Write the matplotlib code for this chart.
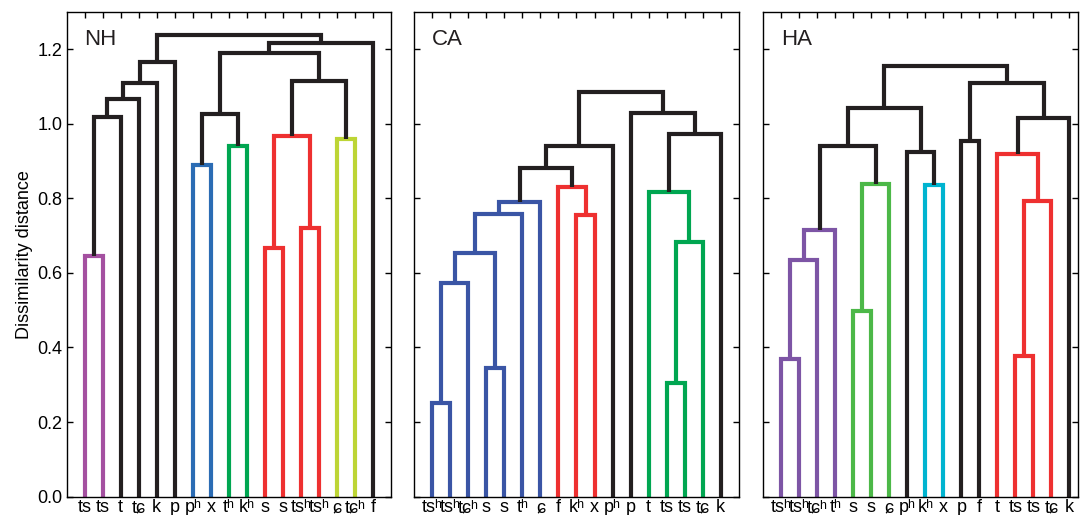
import matplotlib
matplotlib.use("Agg")
import matplotlib.pyplot as plt

plt.rcParams['font.family'] = ['Liberation Sans', 'DejaVu Sans']

BLACK = '#231f20'

# --- NH ---
nh_leaves = ["ts", "ts", "t", "tɕ", "k", "p", "pʰ", "x", "tʰ", "kʰ",
             "s", "s", "tsʰ", "tsʰ", "ɕ", "tɕʰ", "f"]
nh_left = [0, 17, 18, 19, 20, 6, 8, 22, 10, 12, 25, 14, 27, 24, 30, 21]
nh_right = [1, 2, 3, 4, 5, 7, 9, 23, 11, 13, 26, 15, 28, 29, 16, 31]
nh_height = [0.645, 1.017, 1.066, 1.110, 1.166, 0.889, 0.940, 1.027,
             0.667, 0.719, 0.967, 0.960, 1.115, 1.190, 1.215, 1.238]
nh_color = ['#a450a0', BLACK, BLACK, BLACK, BLACK, '#2b6cb4', '#00a651', BLACK,
            '#ee3030', '#ee3030', '#ee3030', '#bdd535', BLACK, BLACK, BLACK, BLACK]

# --- CA ---
ca_leaves = ["tsʰ", "tsʰ", "tɕʰ", "s", "s", "tʰ", "ɕ", "f", "kʰ", "x",
             "pʰ", "p", "t", "ts", "ts", "tɕ", "k"]
ca_left = [0, 17, 3, 18, 20, 21, 8, 7, 22, 25, 13, 27, 12, 29, 11, 26]
ca_right = [1, 2, 4, 19, 5, 6, 9, 23, 24, 10, 14, 15, 28, 16, 30, 31]
ca_height = [0.250, 0.574, 0.344, 0.654, 0.759, 0.791, 0.755, 0.831,
             0.882, 0.939, 0.306, 0.683, 0.817, 0.972, 1.028, 1.086]
ca_color = ['#3a55a5'] * 6 + ['#ee3030'] * 2 + [BLACK] * 2 + ['#00a651'] * 3 + [BLACK] * 3

# --- HA ---
ha_leaves = ["tsʰ", "tsʰ", "tɕʰ", "tʰ", "s", "s", "ɕ", "pʰ", "kʰ", "x",
             "p", "f", "t", "ts", "ts", "tɕ", "k"]
ha_left = [0, 17, 18, 4, 20, 19, 8, 7, 22, 10, 13, 27, 12, 29, 26, 25]
ha_right = [1, 2, 3, 5, 6, 21, 9, 23, 24, 11, 14, 15, 28, 16, 30, 31]
ha_height = [0.368, 0.634, 0.714, 0.497, 0.839, 0.939, 0.835, 0.924,
             1.041, 0.954, 0.378, 0.793, 0.918, 1.015, 1.109, 1.154]
ha_color = ['#7d55a5'] * 3 + ['#4cb848'] * 2 + [BLACK] + ['#00b4d0'] + [BLACK] * 3 + \
           ['#ee3030'] * 3 + [BLACK] * 3

panels = [
    ("NH", nh_leaves, nh_left, nh_right, nh_height, nh_color),
    ("CA", ca_leaves, ca_left, ca_right, ca_height, ca_color),
    ("HA", ha_leaves, ha_left, ha_right, ha_height, ha_color),
]

fig = plt.figure(figsize=(10.81, 5.15), dpi=100)
lefts = [0.0617, 0.3833, 0.7061]
widths = [0.300, 0.300, 0.2915]
xmax = [17, 17, 16.5]

for k, (name, leaves, left, right, height, color) in enumerate(panels):
    ax = fig.add_axes([lefts[k], 0.0355, widths[k], 0.9418])
    n = len(leaves)
    xs = list(range(n))
    ys = [0.0] * n
    # each merge: U shape from the two children up to the merge height
    for a, b, h, c in zip(left, right, height, color):
        ax.plot([xs[a], xs[a], xs[b], xs[b]], [ys[a], h, h, ys[b]],
                color=c, lw=3, solid_joinstyle='miter', solid_capstyle='butt')
        xs.append((xs[a] + xs[b]) / 2)
        ys.append(h)
    ax.set_xlim(-1, xmax[k])
    ax.set_ylim(0, 1.3)
    ax.set_xticks(range(n))
    ax.set_xticklabels(leaves, fontsize=9.3)
    ax.set_yticks([0, 0.2, 0.4, 0.6, 0.8, 1.0, 1.2])
    ax.tick_params(direction='in', top=True, right=True, length=4, width=1,
                   labelsize=13, pad=3)
    ax.tick_params(axis='x', pad=2)
    if k == 0:
        ax.set_yticklabels(["0.0", "0.2", "0.4", "0.6", "0.8", "1.0", "1.2"])
        ax.set_ylabel("Dissimilarity distance", fontsize=13, labelpad=3)
    else:
        ax.set_yticklabels([])
    for s in ax.spines.values():
        s.set_linewidth(1)
    ax.text(0.055, 0.965, name, transform=ax.transAxes, fontsize=16,
            va='top', ha='left', color=BLACK)

fig.savefig("out.png", dpi=100)
